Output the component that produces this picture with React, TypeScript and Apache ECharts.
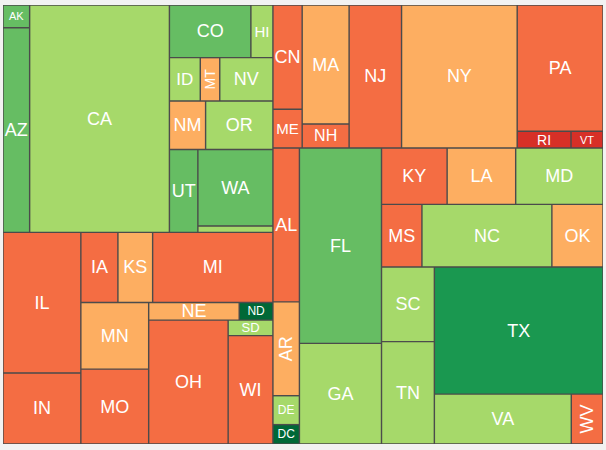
import React, { useEffect, useRef } from "react";
import * as echarts from "echarts";

// Regions in drawing order
const regions = ["West", "Midwest", "Northeast", "South"];

// State codes (ordered by state name within each region)
const states = [
  "AK", "AZ", "CA", "CO", "HI", "ID", "MT", "NV", "NM", "OR", "UT", "WA", "WY",
  "IL", "IN", "IA", "KS", "MI", "MN", "MO", "NE", "ND", "OH", "SD", "WI",
  "CN", "ME", "MA", "NH", "NJ", "NY", "PA", "RI", "VT",
  "AL", "AR", "DE", "DC", "FL", "GA", "KY", "LA", "MD", "MS", "NC", "OK", "SC", "TN", "TX", "VA", "WV",
];

// Region index of each state
const stateRegion = [
  0, 0, 0, 0, 0, 0, 0, 0, 0, 0, 0, 0, 0,
  1, 1, 1, 1, 1, 1, 1, 1, 1, 1, 1, 1,
  2, 2, 2, 2, 2, 2, 2, 2, 2,
  3, 3, 3, 3, 3, 3, 3, 3, 3, 3, 3, 3, 3, 3, 3, 3, 3,
];

// Population (thousands) — tile size
const population = [
  710, 6392, 37254, 5029, 1360, 1568, 989, 2701, 2059, 3831, 2764, 6725, 564,
  12831, 6484, 3046, 2853, 9884, 5304, 5950, 1880, 700, 11537, 814, 5687,
  3574, 1328, 6548, 1316, 8792, 19378, 12702, 1053, 626,
  4780, 2916, 898, 602, 18801, 9688, 4339, 4533, 5774, 2967, 9535, 3751, 4625, 6346, 25146, 8001, 1853,
];

// Colour class (0 = lowest ... 6 = highest)
const colorClass = [
  4, 4, 3, 4, 3, 3, 2, 3, 2, 3, 4, 4, 3,
  1, 1, 1, 2, 1, 2, 1, 2, 6, 1, 3, 1,
  1, 1, 2, 1, 1, 2, 1, 0, 0,
  1, 2, 3, 6, 4, 3, 1, 2, 3, 1, 3, 2, 3, 3, 5, 3, 1,
];

const palette = ["#d73027", "#f46d43", "#fdae61", "#a6d96a", "#66bd63", "#1a9850", "#006837"];

// Label styling overrides
const labelSize: Record<string, number> = {
  AK: 11, WY: 9, ND: 12, SD: 13, RI: 14, VT: 11, DE: 12, DC: 12,
  ME: 15, NH: 16, HI: 15, MT: 14, ID: 17, NE: 18,
};
const labelRotate: Record<string, number> = { MT: 90, AR: 90, WV: 90 };

export default function App() {
  const ref = useRef<HTMLDivElement>(null);
  useEffect(() => {
    if (!ref.current) return;
    const chart = echarts.init(ref.current, undefined, { renderer: "svg" });
    const data = regions.map((r, ri) => ({
      name: r,
      children: states
        .map((s, i) => ({ s, i }))
        .filter(({ i }) => stateRegion[i] === ri)
        .map(({ s, i }) => ({
          name: s,
          value: population[i],
          itemStyle: { color: palette[colorClass[i]] },
          label: {
            fontSize: labelSize[s] ?? 18,
            rotate: labelRotate[s] ?? 0,
          },
        })),
    }));
    chart.setOption({
      animation: false,
      backgroundColor: "#f2f2f2",
      series: [
        {
          type: "treemap",
          left: 3,
          top: 5,
          width: 600,
          height: 439,
          sort: false,
          squareRatio: 1,
          roam: false,
          nodeClick: false,
          visibleMin: 0,
          breadcrumb: { show: false },
          data,
          label: {
            show: true,
            position: "inside",
            color: "#fff",
            fontFamily: "Liberation Sans, Arial, sans-serif",
            fontSize: 18,
            lineHeight: 1,
            overflow: "none",
          },
          upperLabel: { show: false },
          levels: [
            { itemStyle: { borderWidth: 0, gapWidth: 0, borderColor: "#555" } },
            { itemStyle: { borderWidth: 0, gapWidth: 0, borderColor: "#555" } },
            { itemStyle: { borderWidth: 0.7, gapWidth: 0, borderColor: "#4a4a4a" } },
          ],
        },
      ],
    });
    return () => chart.dispose();
  }, []);
  return (
    <div
      ref={ref}
      style={{ position: "fixed", left: 0, top: 0, width: 606, height: 450 }}
    />
  );
}
